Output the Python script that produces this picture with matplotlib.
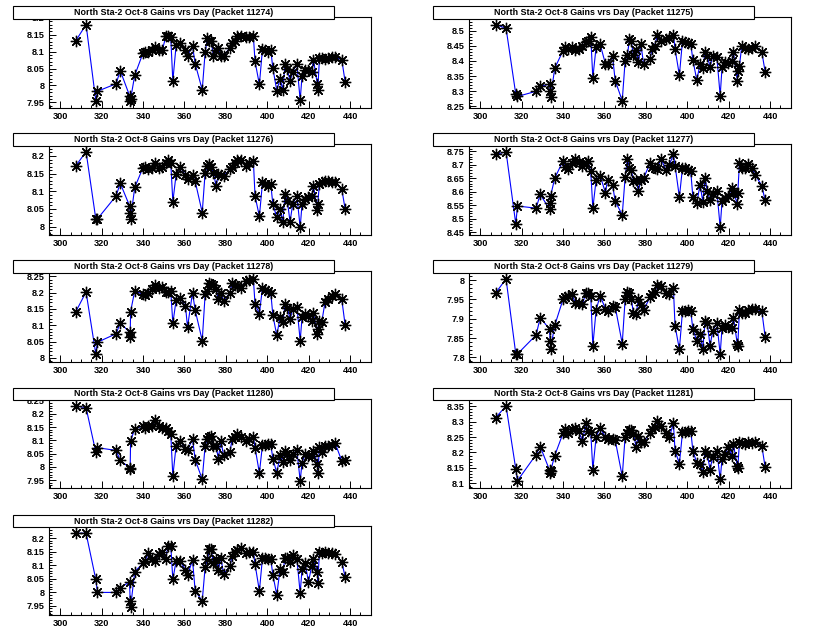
import matplotlib
matplotlib.use('Agg')
import matplotlib.pyplot as plt
from matplotlib.patches import Rectangle
from matplotlib.ticker import MultipleLocator, FormatStrFormatter

plt.rcParams['font.family'] = ['Liberation Sans', 'DejaVu Sans']

days = [307.5, 312.5, 317.2, 318.0, 327.0, 329.0, 333.5, 333.8, 334.0, 336.0,
        340.0, 341.0, 342.6, 344.3, 345.9, 347.5, 349.4, 351.0, 352.0, 353.4,
        354.4, 356.0, 357.9, 360.5, 361.5, 363.9, 365.2, 368.6, 370.0, 371.1,
        372.1, 372.9, 374.0, 375.3, 376.4, 377.6, 378.9, 382.0, 383.0, 384.2,
        385.6, 387.2, 389.8, 391.4, 393.3, 394.1, 396.2, 397.7, 399.0, 400.3,
        401.7, 402.7, 404.6, 406.2, 407.5, 408.6, 409.7, 411.0, 412.3, 414.3,
        415.9, 416.8, 418.3, 419.9, 421.5, 422.3, 424.2, 424.4, 425.2, 426.3,
        427.9, 429.5, 431.1, 432.8, 436.0, 437.6]

gain_11274 = [8.132, 8.18, 7.955, 7.983, 8.005, 8.044, 7.97, 7.955, 7.96, 8.03,
              8.096, 8.10, 8.10, 8.106, 8.115, 8.106, 8.106, 8.145, 8.145, 8.142,
              8.013, 8.12, 8.127, 8.106, 8.088, 8.117, 8.064, 7.987, 8.098, 8.139,
              8.132, 8.132, 8.088, 8.106, 8.112, 8.088, 8.088, 8.112, 8.127, 8.132,
              8.147, 8.145, 8.142, 8.142, 8.145, 8.071, 8.003, 8.109, 8.106, 8.098,
              8.105, 8.051, 7.985, 8.02, 7.987, 8.064, 8.048, 8.013, 8.041, 8.063,
              7.957, 8.028, 8.046, 8.046, 8.041, 8.076, 8.004, 7.987, 8.08, 8.08,
              8.078, 8.08, 8.083, 8.084, 8.076, 8.011]

gain_11275 = [8.52, 8.508, 8.29, 8.283, 8.30, 8.316, 8.324, 8.302, 8.28, 8.376,
              8.434, 8.445, 8.44, 8.445, 8.437, 8.44, 8.45, 8.461, 8.466, 8.48,
              8.344, 8.447, 8.456, 8.39, 8.39, 8.417, 8.335, 8.269, 8.40, 8.42,
              8.472, 8.467, 8.42, 8.437, 8.395, 8.456, 8.39, 8.406, 8.44, 8.45,
              8.486, 8.467, 8.472, 8.475, 8.486, 8.44, 8.353, 8.467, 8.462, 8.459,
              8.456, 8.404, 8.337, 8.39, 8.376, 8.428, 8.415, 8.381, 8.417, 8.412,
              8.285, 8.379, 8.398, 8.393, 8.40, 8.428, 8.335, 8.368, 8.384, 8.448,
              8.443, 8.44, 8.443, 8.45, 8.43, 8.365]

gain_11276 = [8.172, 8.212, 8.022, 8.022, 8.087, 8.123, 8.059, 8.04, 8.022, 8.111,
              8.167, 8.169, 8.162, 8.167, 8.181, 8.167, 8.169, 8.181, 8.188, 8.181,
              8.071, 8.148, 8.169, 8.146, 8.134, 8.146, 8.128, 8.04, 8.153, 8.172,
              8.177, 8.169, 8.153, 8.115, 8.148, 8.146, 8.144, 8.162, 8.169, 8.181,
              8.188, 8.188, 8.172, 8.18, 8.186, 8.087, 8.029, 8.125, 8.12, 8.115,
              8.12, 8.064, 8.026, 8.05, 8.012, 8.092, 8.073, 8.014, 8.064, 8.087,
              7.998, 8.064, 8.078, 8.083, 8.087, 8.115, 8.047, 8.064, 8.122, 8.125,
              8.128, 8.128, 8.125, 8.125, 8.106, 8.05]

gain_11277 = [8.738, 8.748, 8.48, 8.547, 8.539, 8.59, 8.535, 8.559, 8.584, 8.65,
              8.714, 8.693, 8.684, 8.705, 8.723, 8.711, 8.697, 8.708, 8.712, 8.675,
              8.539, 8.644, 8.66, 8.596, 8.644, 8.626, 8.565, 8.514, 8.653, 8.723,
              8.687, 8.682, 8.64, 8.644, 8.604, 8.644, 8.65, 8.705, 8.693, 8.687,
              8.684, 8.723, 8.68, 8.70, 8.738, 8.697, 8.58, 8.689, 8.687, 8.68,
              8.675, 8.58, 8.559, 8.626, 8.563, 8.65, 8.602, 8.568, 8.59, 8.602,
              8.468, 8.565, 8.577, 8.584, 8.614, 8.596, 8.556, 8.596, 8.705, 8.687,
              8.689, 8.701, 8.687, 8.663, 8.622, 8.568]

gain_11278 = [8.141, 8.202, 8.012, 8.048, 8.074, 8.107, 8.079, 8.064, 8.142, 8.205,
              8.195, 8.192, 8.20, 8.21, 8.222, 8.215, 8.218, 8.202, 8.202, 8.205,
              8.106, 8.177, 8.184, 8.159, 8.094, 8.20, 8.146, 8.053, 8.195, 8.205,
              8.23, 8.226, 8.222, 8.21, 8.179, 8.20, 8.174, 8.20, 8.23, 8.222,
              8.22, 8.215, 8.235, 8.238, 8.242, 8.164, 8.136, 8.215, 8.208, 8.205,
              8.20, 8.131, 8.069, 8.124, 8.109, 8.164, 8.154, 8.119, 8.151, 8.157,
              8.053, 8.124, 8.134, 8.129, 8.114, 8.137, 8.074, 8.089, 8.114, 8.109,
              8.171, 8.179, 8.19, 8.195, 8.179, 8.101]

gain_11279 = [7.967, 8.003, 7.809, 7.809, 7.858, 7.903, 7.873, 7.843, 7.823, 7.883,
              7.95, 7.957, 7.958, 7.963, 7.942, 7.94, 7.937, 7.967, 7.967, 7.959,
              7.83, 7.923, 7.959, 7.926, 7.92, 7.933, 7.931, 7.836, 7.95, 7.969,
              7.966, 7.952, 7.916, 7.912, 7.95, 7.935, 7.923, 7.955, 7.963, 7.969,
              7.986, 7.985, 7.967, 7.963, 7.98, 7.882, 7.821, 7.92, 7.92, 7.923,
              7.92, 7.873, 7.843, 7.86, 7.821, 7.894, 7.888, 7.83, 7.869, 7.888,
              7.809, 7.877, 7.883, 7.88, 7.875, 7.903, 7.834, 7.83, 7.923, 7.914,
              7.916, 7.922, 7.926, 7.926, 7.92, 7.854]

gain_11280 = [8.229, 8.223, 8.055, 8.072, 8.062, 8.024, 7.997, 7.99, 8.099, 8.142,
              8.155, 8.148, 8.152, 8.152, 8.176, 8.155, 8.148, 8.146, 8.136, 8.124,
              7.965, 8.08, 8.099, 8.068, 8.062, 8.105, 8.027, 7.953, 8.08, 8.105,
              8.114, 8.117, 8.08, 8.077, 8.031, 8.099, 8.043, 8.055, 8.105, 8.111,
              8.124, 8.111, 8.099, 8.105, 8.111, 8.072, 7.977, 8.083, 8.082, 8.086,
              8.085, 8.031, 7.977, 8.043, 8.018, 8.059, 8.049, 8.027, 8.049, 8.062,
              7.948, 8.015, 8.049, 8.039, 8.039, 8.059, 8.012, 7.975, 8.074, 8.055,
              8.08, 8.08, 8.084, 8.089, 8.022, 8.027]

gain_11281 = [8.313, 8.35, 8.146, 8.109, 8.193, 8.219, 8.143, 8.134, 8.14, 8.19,
              8.262, 8.276, 8.262, 8.276, 8.279, 8.268, 8.238, 8.294, 8.27, 8.265,
              8.145, 8.251, 8.279, 8.25, 8.244, 8.244, 8.24, 8.123, 8.251, 8.262,
              8.272, 8.274, 8.26, 8.219, 8.254, 8.233, 8.235, 8.262, 8.276, 8.281,
              8.302, 8.286, 8.262, 8.251, 8.294, 8.206, 8.164, 8.265, 8.265, 8.268,
              8.27, 8.206, 8.166, 8.164, 8.137, 8.206, 8.194, 8.145, 8.187, 8.204,
              8.113, 8.18, 8.196, 8.219, 8.19, 8.226, 8.155, 8.15, 8.233, 8.23,
              8.228, 8.233, 8.23, 8.233, 8.222, 8.153]

gain_11282 = [8.218, 8.218, 8.047, 7.999, 7.999, 8.016, 8.038, 7.968, 7.944, 8.076,
              8.107, 8.116, 8.144, 8.124, 8.116, 8.14, 8.148, 8.122, 8.172, 8.172,
              8.047, 8.116, 8.116, 8.082, 8.062, 8.119, 8.004, 7.968, 8.092, 8.122,
              8.16, 8.158, 8.107, 8.122, 8.083, 8.128, 8.068, 8.095, 8.134, 8.148,
              8.156, 8.164, 8.146, 8.148, 8.148, 8.104, 8.004, 8.128, 8.126, 8.124,
              8.122, 8.064, 7.99, 8.086, 8.074, 8.128, 8.126, 8.11, 8.136, 8.124,
              7.996, 8.086, 8.107, 8.038, 8.098, 8.124, 8.076, 8.035, 8.148, 8.144,
              8.148, 8.146, 8.144, 8.14, 8.112, 8.056]

packets = [11274, 11275, 11276, 11277, 11278, 11279, 11280, 11281, 11282]
gains = [gain_11274, gain_11275, gain_11276, gain_11277, gain_11278,
         gain_11279, gain_11280, gain_11281, gain_11282]

W, H = 840, 635
fig = plt.figure(figsize=(W / 100, H / 100), dpi=100)

for i, (pk, g) in enumerate(zip(packets, gains)):
    r, c = i // 2, i % 2
    x0 = c * 420
    top = 17 + 127.2 * r
    bot = 108.3 + 126.6 * r
    ax = fig.add_axes([(x0 + 49) / W, 1 - bot / H, 322 / W, (bot - top) / H])

    ax.plot(days, g, color='blue', lw=0.8, zorder=2)
    ax.plot(days, g, ls='none', marker=(8, 2, 0), ms=8.2, mec='black',
            mew=0.95, zorder=3)

    # ROOT style ranges: 10% margin around the data
    ymin, ymax = min(g), max(g)
    dy = ymax - ymin
    ax.set_ylim(ymin - 0.1 * dy, ymax + 0.1 * dy)
    ax.set_xlim(294.6, 450.1)

    ax.xaxis.set_major_locator(MultipleLocator(20))
    ax.xaxis.set_minor_locator(MultipleLocator(5))
    ax.yaxis.set_major_locator(MultipleLocator(0.05))
    ax.yaxis.set_minor_locator(MultipleLocator(0.01))
    ax.yaxis.set_major_formatter(FormatStrFormatter('%g'))
    ax.tick_params(which='both', direction='in', top=False, right=False,
                   labelsize=6.6, width=0.7)
    ax.tick_params(which='major', length=5)
    ax.tick_params(which='minor', length=2.5)
    ax.tick_params(axis='x', pad=3)
    ax.tick_params(axis='y', pad=3)
    for lab in ax.get_xticklabels() + ax.get_yticklabels():
        lab.set_fontweight('bold')
    for sp in ax.spines.values():
        sp.set_linewidth(0.8)

    # title box
    bt = 6 + 127.2 * r
    bh = 12.5
    fig.add_artist(Rectangle(((x0 + 13) / W, 1 - (bt + bh) / H), 321 / W, bh / H,
                             transform=fig.transFigure, facecolor='white',
                             edgecolor='black', lw=0.8, zorder=5))
    fig.text((x0 + 13 + 160.5) / W, 1 - (bt + bh / 2) / H,
             'North Sta-2 Oct-8 Gains vrs Day (Packet %d)' % pk,
             ha='center', va='center', fontsize=6.4, fontweight='bold', zorder=6)

fig.savefig('out.png', dpi=100)
